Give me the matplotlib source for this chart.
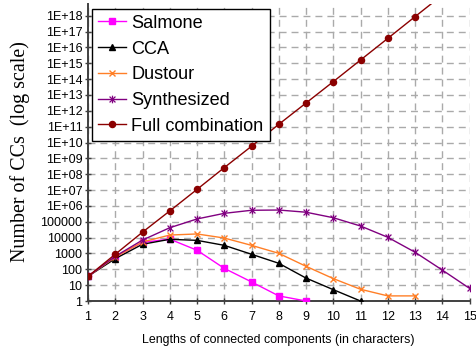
import matplotlib
matplotlib.use("Agg")
import matplotlib.pyplot as plt
from matplotlib.path import Path
from matplotlib.ticker import FixedLocator, FixedFormatter

# ---- data ----
lengths = list(range(1, 16))
salmone = [36, 600, 5000, 8000, 1600, 115, 16, 2.1, 1]
cca = [36, 470, 3800, 7800, 6700, 3250, 890, 240, 28, 5.2, 1]
dustour = [36, 590, 5300, 14500, 17000, 9400, 3250, 1020, 155, 26, 5.5, 2.1, 2.1]
synthesized = [36, 660, 7000, 42000, 150000, 340000, 530000, 550000, 400000,
               180000, 54000, 10500, 1200, 90, 6.3]
full_comb = [36, 890, 22000, 4.8e5, 1.1e7, 2.6e8, 5.8e9, 1.4e11, 3.1e12,
             6.9e13, 1.6e15, 3.7e16, 8.7e17, 2e19]
series_names = ["Salmone", "CCA", "Dustour", "Synthesized", "Full combination"]
ytick_exps = list(range(0, 19))
ytick_labels = ["1", "10", "100", "1000", "10000", "100000"] + \
    ["1E+%02d" % e for e in range(6, 19)]
xtick_labels = [str(v) for v in lengths]

W, H = 476, 353
fig = plt.figure(figsize=(W / 100, H / 100), dpi=100)
ax = fig.add_axes([88 / W, 1 - 301 / H, (469.5 - 88) / W, (301 - 4) / H])

star = Path([(-1, -1), (1, 1), (-1, 1), (1, -1), (0, -1.3), (0, 1.3)],
            [Path.MOVETO, Path.LINETO, Path.MOVETO, Path.LINETO,
             Path.MOVETO, Path.LINETO])

styles = [
    dict(color="#FF00FF", marker="s", ms=4.7),
    dict(color="#000000", marker="^", ms=4.7),
    dict(color="#FF7F27", marker="x", ms=5, mew=1.0),
    dict(color="#800080", marker=star, ms=5.5, mew=0.9),
    dict(color="#8B0000", marker="o", ms=4.4),
]
data = [salmone, cca, dustour, synthesized, full_comb]
for name, vals, st in zip(series_names, data, styles):
    ax.plot(lengths[:len(vals)], vals, color=st["color"], lw=1.0,
            marker=st["marker"], ms=st["ms"], mew=st.get("mew", 1.0),
            mec=st["color"], mfc=st["color"], label=name, clip_on=True,
            zorder=3)

ax.set_yscale("log")
ax.set_xlim(1, 15)
ax.set_ylim(1, 10 ** 18.74)
ax.yaxis.set_major_locator(FixedLocator([10.0 ** e for e in ytick_exps]))
ax.yaxis.set_major_formatter(FixedFormatter(ytick_labels))
ax.yaxis.set_minor_locator(FixedLocator([]))
ax.xaxis.set_major_locator(FixedLocator(lengths))
ax.xaxis.set_major_formatter(FixedFormatter(xtick_labels))

ax.grid(True, which="major", color="#AAAAAA", lw=1.0, dashes=(5, 3.6))
ax.set_axisbelow(True)
for s in ["top", "right"]:
    ax.spines[s].set_visible(False)
for s in ["left", "bottom"]:
    ax.spines[s].set_color("#404040")
    ax.spines[s].set_linewidth(1.4)
ax.tick_params(axis="both", direction="inout", length=5, width=1,
               color="#404040", labelsize=9.0, labelcolor="black",
               labelfontfamily="Liberation Sans")
ax.tick_params(axis="x", pad=5)
ax.tick_params(axis="y", pad=1.5)

leg = ax.legend(loc="upper left", bbox_to_anchor=(92 / W, 1 - 8.5 / H),
                bbox_transform=fig.transFigure, borderaxespad=0,
                prop={"family": "Liberation Sans", "size": 13.1},
                frameon=True, fancybox=False, edgecolor="black",
                framealpha=1, handlelength=1.5, handletextpad=0.3,
                labelspacing=0.48, borderpad=0.35)
leg.get_frame().set_linewidth(1.0)

fig.text(20 / W, 1 - 152 / H, "Number of CCs  (log scale)",
         rotation=90, ha="center", va="center",
         family="Liberation Serif", size=14.4)
fig.text(278.5 / W, 1 - 340 / H,
         "Lengths of connected components (in characters)",
         ha="center", va="center", family="Liberation Sans", size=8.9)

fig.savefig("out.png", dpi=100)
